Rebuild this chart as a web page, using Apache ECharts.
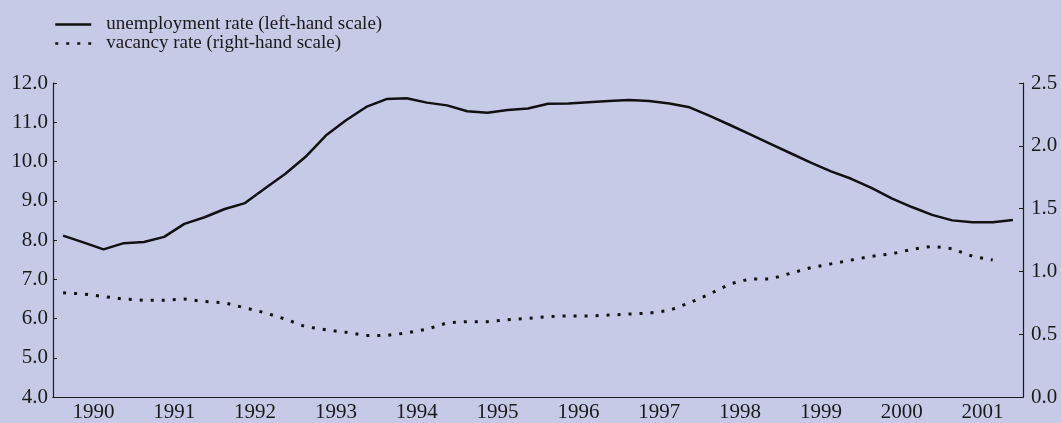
<!DOCTYPE html>
<html style="height: 100%">
<head>
    <meta charset="utf-8">
</head>
<body style="height: 100%; margin: 0; background: #c6cae6">
<div id="container" style="width: 1061px; height: 423px"></div>
<script type="text/javascript" src="https://cdn.jsdelivr.net/npm/echarts@6/dist/echarts.min.js"></script>
<script type="text/javascript">
    // quarters 1990Q1 .. 2001Q4
    var years = ['1990', '1991', '1992', '1993', '1994', '1995', '1996', '1997', '1998', '1999', '2000', '2001'];
    var quarters = [];
    years.forEach(function (y) {
        for (var q = 1; q <= 4; q++) quarters.push(y + 'Q' + q);
    });

    // unemployment rate, left-hand scale
    var unemployment = [
        8.11, 7.94, 7.76, 7.92, 7.95, 8.08, 8.41, 8.58, 8.79, 8.94, 9.32, 9.69,
        10.12, 10.66, 11.05, 11.39, 11.59, 11.61, 11.50, 11.43, 11.28, 11.24, 11.31, 11.35,
        11.47, 11.48, 11.51, 11.54, 11.57, 11.54, 11.48, 11.38, 11.16, 10.93, 10.69, 10.45,
        10.21, 9.97, 9.75, 9.56, 9.33, 9.06, 8.84, 8.64, 8.50, 8.45, 8.45, 8.51
    ];
    // vacancy rate, right-hand scale
    var vacancy = [
        0.83, 0.82, 0.80, 0.78, 0.77, 0.77, 0.78, 0.76, 0.75, 0.71, 0.67, 0.62,
        0.56, 0.535, 0.515, 0.49, 0.49, 0.51, 0.54, 0.59, 0.60, 0.60, 0.615, 0.626,
        0.64, 0.646, 0.644, 0.652, 0.66, 0.668, 0.69, 0.75, 0.82, 0.90, 0.94, 0.94,
        0.985, 1.03, 1.06, 1.09, 1.12, 1.14, 1.175, 1.20, 1.18, 1.12, 1.09, null
    ];

    var FONT = 'Liberation Serif';
    var INK = '#1a1a1a';

    var myChart = echarts.init(document.getElementById('container'));
    var option = {
        backgroundColor: '#c6cae6',
        animation: false,
        textStyle: {fontFamily: FONT, color: INK},
        legend: {
            orient: 'vertical',
            left: 49,
            top: 10,
            itemWidth: 36,
            itemHeight: 12,
            itemGap: 0,
            itemStyle: {opacity: 0},
            lineStyle: {width: 2.5},
            textStyle: {fontFamily: FONT, fontSize: 19, color: INK, padding: [0, 0, 0, 10]},
            data: ['unemployment rate (left-hand scale)', 'vacancy rate (right-hand scale)']
        },
        grid: {left: 53, right: 38, top: 83, bottom: 25, containLabel: false},
        xAxis: [{
            type: 'category',
            data: quarters,
            boundaryGap: true,
            axisLine: {lineStyle: {color: INK, width: 1.2}},
            axisTick: {inside: true, length: 4, interval: 0, lineStyle: {color: INK}},
            axisLabel: {show: false},
            splitLine: {show: false}
        }, {
            type: 'category',
            data: years,
            position: 'bottom',
            boundaryGap: true,
            axisLine: {lineStyle: {color: INK, width: 1.2}},
            axisTick: {inside: true, length: 9, interval: 0, lineStyle: {color: INK}},
            axisLabel: {fontFamily: FONT, fontSize: 21, color: INK, margin: 5, interval: 0},
            splitLine: {show: false}
        }],
        yAxis: [{
            type: 'value',
            min: 4, max: 12, interval: 1,
            axisLine: {show: true, lineStyle: {color: INK, width: 1.2}},
            axisTick: {show: true, inside: true, length: 4, lineStyle: {color: INK}},
            axisLabel: {fontFamily: FONT, fontSize: 21, color: INK, margin: 5,
                formatter: function (v) { return v.toFixed(1); }},
            splitLine: {show: false}
        }, {
            type: 'value',
            min: 0, max: 2.5, interval: 0.5,
            position: 'right',
            axisLine: {show: true, lineStyle: {color: INK, width: 1.2}},
            axisTick: {show: true, inside: true, length: 4, lineStyle: {color: INK}},
            axisLabel: {fontFamily: FONT, fontSize: 21, color: INK, margin: 8,
                formatter: function (v) { return v.toFixed(1); }},
            splitLine: {show: false}
        }],
        series: [{
            name: 'unemployment rate (left-hand scale)',
            type: 'line',
            xAxisIndex: 0,
            yAxisIndex: 0,
            data: unemployment,
            symbol: 'none',
            itemStyle: {color: '#111'},
            lineStyle: {color: '#111', width: 2.5}
        }, {
            name: 'vacancy rate (right-hand scale)',
            type: 'line',
            xAxisIndex: 0,
            yAxisIndex: 1,
            data: vacancy,
            symbol: 'none',
            itemStyle: {color: '#111'},
            lineStyle: {color: '#111', width: 3, type: [3, 8]}
        }]
    };
    myChart.setOption(option);
</script>
</body>
</html>
